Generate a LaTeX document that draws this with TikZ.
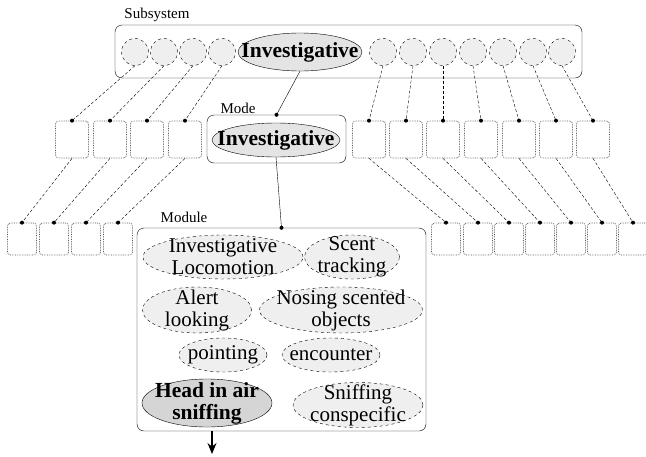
\documentclass[tikz,border=0pt]{standalone}
\usepackage{fontspec}
\setmainfont{Liberation Serif}
\usepackage{tikz}
\usetikzlibrary{shapes.geometric, arrows.meta}
\definecolor{Fill}{HTML}{E4E4E4}
\definecolor{Light}{HTML}{EFEFEF}
\definecolor{Stub}{HTML}{555555}
\tikzset{
  every picture/.style={>=stealth, font=\rmfamily},
  group/.style={draw, rounded corners=7pt, inner sep=0pt},
  slot/.style={circle, draw, dashed, fill=Light, minimum size=27pt, inner sep=0pt},
  active/.style={ellipse, draw, fill=Fill, inner sep=0pt},
  behaviour/.style={ellipse, draw, dashed, fill=Light, inner sep=0pt},
  strong/.style={align=center, inner sep=0pt, font={\fontsize{21.5}{22}\selectfont\bfseries}},
  plain/.style={align=center, inner sep=0pt, font={\fontsize{21}{22}\selectfont}},
  stub/.style={draw=Stub, densely dotted, line width=0.7pt, rounded corners=3pt, inner sep=0pt},
  caption/.style={font={\fontsize{15}{16}\selectfont}, inner sep=0pt},
  link/.style={dash pattern=on 3pt off 2pt, thin},
  knot/.style={fill=black}}

\begin{document}
\begin{tikzpicture}[x=1pt, y=-1pt]
    \useasboundingbox (0,0) rectangle (646,456);

    % subsystem level
    \node[group, minimum width=467pt, minimum height=53pt] (subbox) at (348.5,51.5) {};
    \node[caption] (sublabel) at (157,15) {Subsystem};
    \node[active, minimum width=124pt, minimum height=38pt,
      label={[strong]center:Investigative}] (subinv) at (300,52) {};
    \foreach \x [count=\i] in {135, 164, 193, 222} {
      \node[slot] (sl\i) at (\x,52) {};
    }
    \foreach \x [count=\i] in {383, 413, 443, 473, 503, 533, 562} {
      \node[slot] (sr\i) at (\x,52) {};
    }

    % mode level
    \node[group, minimum width=139pt, minimum height=48pt] (modebox) at (276.5,139) {};
    \node[caption] (modelabel) at (238,108) {Mode};
    \node[active, minimum width=128pt, minimum height=34pt,
      label={[strong]center:Investigative}] (modeinv) at (276,140) {};
    \foreach \x [count=\i] in {72, 110, 147, 185} {
      \node[stub, minimum width=33pt, minimum height=37pt] (ml\i) at (\x,139.5) {};
    }
    \foreach \x [count=\i] in {369, 406, 443, 481, 519, 556, 593} {
      \node[stub, minimum width=33pt, minimum height=37pt] (mr\i) at (\x,139.5) {};
    }

    % module level
    \node[group, minimum width=289pt, minimum height=203pt] (modbox) at (281.5,329.5) {};
    \node[caption] (modlabel) at (184,217) {Module};
    \foreach \x [count=\i] in {22, 54, 86, 118} {
      \node[stub, minimum width=29pt, minimum height=32pt] (bl\i) at (\x,239) {};
    }
    \foreach \x [count=\i] in {446, 478, 509, 540, 571, 602, 633} {
      \node[stub, minimum width=29pt, minimum height=32pt] (br\i) at (\x,239) {};
    }

    \node[behaviour, minimum width=160pt, minimum height=44pt,
      label={[plain]center:{Investigative\\Locomotion}}] (loco) at (223,257) {};
    \node[behaviour, minimum width=95pt, minimum height=44pt,
      label={[plain]center:{Scent\\tracking}}] (scent) at (352,257) {};
    \node[behaviour, minimum width=109pt, minimum height=46pt,
      label={[plain]center:{Alert\\looking}}] (alert) at (197,310) {};
    \node[behaviour, minimum width=163pt, minimum height=46pt,
      label={[plain]center:{Nosing scented\\objects}}] (nosing) at (341,310) {};
    \node[behaviour, minimum width=88pt, minimum height=34pt,
      label={[plain]center:pointing}] (point) at (223,355) {};
    \node[behaviour, minimum width=98pt, minimum height=34pt,
      label={[plain]center:encounter}] (meet) at (331,355) {};
    \node[active, minimum width=130pt, minimum height=48pt, fill=Fill!85!gray,
      label={[strong]center:{Head in air\\sniffing}}] (headair) at (207,403) {};
    \node[behaviour, minimum width=130pt, minimum height=45pt,
      label={[plain]center:{Sniffing\\conspecific}}] (consp) at (358,405) {};

    % connections
    \foreach \i in {1, ..., 4} {
      \draw[link] (sl\i.south) -- (ml\i.north);
      \fill[knot] (ml\i.north) circle[radius=2pt];
      \draw[link] (ml\i.south) -- (bl\i.north);
      \fill[knot] (bl\i.north) circle[radius=2pt];
    }
    \foreach \i in {1, ..., 7} {
      \draw[link] (sr\i.south) -- (mr\i.north);
      \fill[knot] (mr\i.north) circle[radius=2pt];
      \draw[link] (mr\i.south) -- (br\i.north);
      \fill[knot] (br\i.north) circle[radius=2pt];
    }
    \draw (subinv.south) -- (modebox.north);
    \fill[knot] (modebox.north) circle[radius=2pt];
    \draw (modeinv.south) -- (modbox.north);
    \fill[knot] (modbox.north) circle[radius=2pt];

    \coordinate (out) at (212,454);
    \draw[line width=1.2pt, -{Stealth[length=11pt, width=9pt]}] (out |- modbox.south) -- (out);
  \end{tikzpicture}
\end{document}
